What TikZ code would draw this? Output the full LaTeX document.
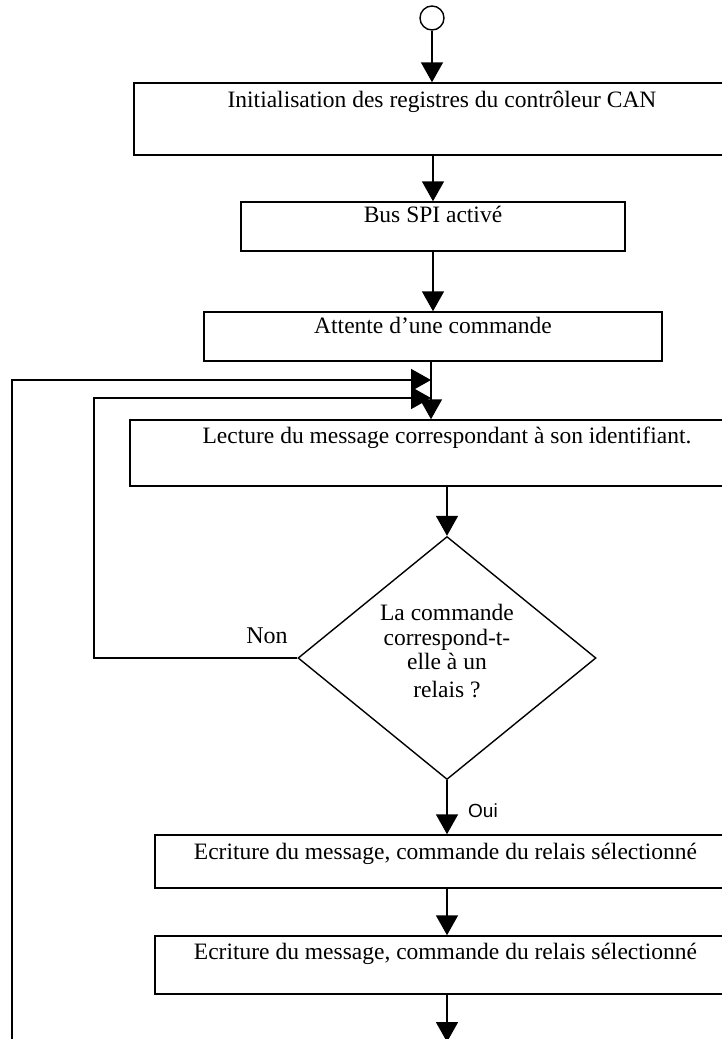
\documentclass[tikz,border=0pt]{standalone}
\usepackage{fontspec}
\setmainfont{Liberation Serif}
\newfontfamily\ouifont{Liberation Sans}
\usepackage{tikz}
\usetikzlibrary{arrows.meta,shapes.geometric}

\begin{document}
\begin{tikzpicture}[
    x=1pt, y=-1pt,
    >={Triangle[length=20pt,width=22pt]},
    proc/.style={draw, line width=1.5pt, rectangle, inner sep=0pt, align=center, font=\fontsize{23.5}{28}\selectfont},
    decision/.style={draw, line width=1.4pt, diamond, inner sep=0pt, minimum width=298pt, minimum height=243pt, align=center, font=\fontsize{23.5}{24.5}\selectfont},
    flow/.style={->, line width=1.7pt}
]
\useasboundingbox (0,0) rectangle (722,1039);

\node[draw, circle, line width=1.4pt, minimum size=24pt, inner sep=0pt] (start) at (432,18) {};
\node[proc, minimum width=616pt, text height=24pt, text depth=48pt] (init) at (442,119) {Initialisation des registres du contrôleur CAN};
\node[proc, minimum width=384pt, text height=20pt, text depth=29pt] (spi) at (433,226.5) {Bus SPI activé};
\node[proc, minimum width=458pt, text height=21pt, text depth=28pt] (wait) at (433,336.5) {Attente d’une commande};
\node[proc, minimum width=634pt, text height=23pt, text depth=43pt] (read) at (447,453) {Lecture du message correspondant à son identifiant.};
\node[decision] (ask) at (447,658) {\raisebox{4pt}[\height][\depth]{\begin{tabular}{@{}c@{}}La commande\\correspond-t-\\elle à un\\[3pt]relais ?\end{tabular}}};
\node[proc, minimum width=581pt, text height=24pt, text depth=29pt] (write1) at (445.5,861.5) {Ecriture du message, commande du relais sélectionné};
\node[proc, minimum width=581pt, text height=23pt, text depth=35pt] (write2) at (445.5,965) {Ecriture du message, commande du relais sélectionné};

\coordinate (m1) at (431,380);
\coordinate (m2) at (431,398);
\coordinate (loopfoot) at (12,1045);
\coordinate (nonback) at (94,398);
\coordinate (exitpt) at (447,1042);

% main chain
\draw[flow] (start) -- (start |- init.north);
\draw[flow] (spi.north |- init.south) -- (spi.north);
\draw[flow] (wait.north |- spi.south) -- (wait.north);
\draw[flow] (m1 |- wait.south) -- (m1 |- read.north);
\draw[flow] (ask.north |- read.south) -- (ask.north);
\draw[flow] (ask.south) -- node[right, xshift=17pt, yshift=-3pt, font=\ouifont\fontsize{19}{22}\selectfont] (oui) {Oui} (ask.south |- write1.north);
\draw[flow] (ask.south |- write1.south) -- (ask.south |- write2.north);
\draw[flow] (ask.south |- write2.south) -- (exitpt);

% loops back
\draw[flow] (loopfoot) |- (m1);
\draw[flow] (ask.west) -| (nonback) -- (m2);
\node[font=\fontsize{24}{28}\selectfont] (non) at (267,636) {Non};
\end{tikzpicture}
\end{document}
